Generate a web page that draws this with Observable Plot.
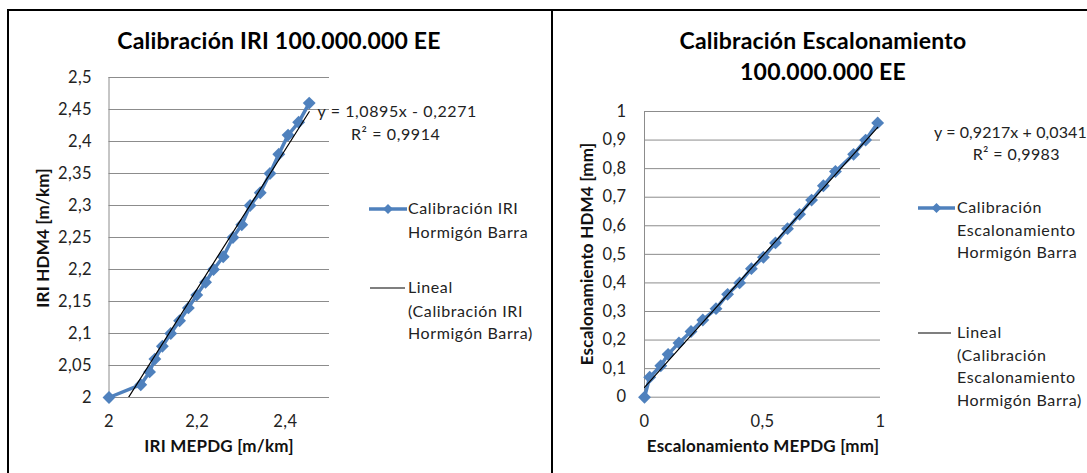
<!DOCTYPE html>
<html><head><meta charset="utf-8">
<script src="https://cdn.jsdelivr.net/npm/d3@7"></script>
<script src="https://cdn.jsdelivr.net/npm/@observablehq/plot@0.6"></script>
<style>
html,body{margin:0;padding:0;background:#fff;}
#root{position:relative;width:1087px;height:473px;overflow:hidden;font-family:Lato,"Open Sans",sans-serif;color:#222;}
.box{position:absolute;border:2px solid #000;box-sizing:border-box;}
.t{position:absolute;white-space:nowrap;line-height:1;}
svg.chart{position:absolute;top:0;}
</style></head><body><div id="root"></div>
<script>
// ---------- data ----------
const iriMepdg = [2.00, 2.072, 2.092, 2.104, 2.121, 2.140, 2.160, 2.180, 2.199, 2.219, 2.237, 2.259, 2.281, 2.301, 2.320, 2.343, 2.365, 2.385, 2.406, 2.430, 2.454];
const iriHdm4  = [2.00, 2.02, 2.04, 2.06, 2.08, 2.10, 2.12, 2.14, 2.16, 2.18, 2.20, 2.22, 2.25, 2.27, 2.30, 2.32, 2.35, 2.38, 2.41, 2.43, 2.46];
const iriTrendSlope = 1.0895, iriTrendIntercept = -0.2271;
const iriTrendX = [2.00, 2.454];
const iriXTicks = [2, 2.2, 2.4];
const iriYTicks = [2, 2.05, 2.1, 2.15, 2.2, 2.25, 2.3, 2.35, 2.4, 2.45, 2.5];

const escMepdg = [0, 0.022, 0.069, 0.10, 0.146, 0.197, 0.247, 0.303, 0.352, 0.403, 0.453, 0.504, 0.555, 0.606, 0.657, 0.708, 0.758, 0.809, 0.886, 0.937, 0.988];
const escHdm4  = [0, 0.07, 0.11, 0.15, 0.19, 0.23, 0.27, 0.31, 0.36, 0.40, 0.45, 0.49, 0.54, 0.59, 0.64, 0.69, 0.74, 0.79, 0.85, 0.90, 0.96];
const escTrendSlope = 0.9217, escTrendIntercept = 0.0341;
const escTrendX = [0, 0.988];
const escXTicks = [0, 0.5, 1];
const escYTicks = [0, 0.1, 0.2, 0.3, 0.4, 0.5, 0.6, 0.7, 0.8, 0.9, 1];

// ---------- helpers ----------
const root = document.getElementById("root");
const fmt = d => String(d).replace(".", ",");
const BLUE = "#4F81BD", GRID = "#8c8c8c";

function box(l, t, w, h){ const d=document.createElement("div"); d.className="box"; Object.assign(d.style,{left:l+"px",top:t+"px",width:w+"px",height:h+"px"}); root.appendChild(d); }
// text placed by baseline
function txt(s, x, base, o={}){
  const fs=o.fs||16, d=document.createElement("div"); d.className="t"; d.textContent=s;
  d.style.fontSize=fs+"px"; d.style.fontWeight=o.bold?"bold":"normal"; d.style.color=o.color||"#222";
  d.style.letterSpacing=(o.ls!=null?o.ls:0.6)+"px";
  d.style.top=(base-0.887*fs)+"px";
  if(o.center){ d.style.left=(x-300)+"px"; d.style.width="600px"; d.style.textAlign="center"; }
  else d.style.left=x+"px";
  root.appendChild(d);
}
function vtxt(s, cx, cy, o={}){
  const fs=o.fs||17, d=document.createElement("div"); d.className="t"; d.textContent=s;
  Object.assign(d.style,{fontSize:fs+"px",fontWeight:"bold",color:"#111",letterSpacing:"0.2px",left:cx+"px",top:cy+"px",transform:"translate(-50%,-50%) rotate(-90deg)"});
  root.appendChild(d);
}
function swatch(x1, x2, y, color, width, diamond){
  const ns="http://www.w3.org/2000/svg", s=document.createElementNS(ns,"svg");
  s.setAttribute("width",x2-x1+10); s.setAttribute("height",16);
  Object.assign(s.style,{position:"absolute",left:(x1-5)+"px",top:(y-8)+"px"});
  const l=document.createElementNS(ns,"line");
  l.setAttribute("x1",5); l.setAttribute("x2",x2-x1+5); l.setAttribute("y1",8); l.setAttribute("y2",8);
  l.setAttribute("stroke",color); l.setAttribute("stroke-width",width); s.appendChild(l);
  if(diamond){ const c=(x2-x1)/2+5, p=document.createElementNS(ns,"path");
    p.setAttribute("d",`M${c},${8-5}L${c+5},8L${c},${8+5}L${c-5},8Z`); p.setAttribute("fill",color); s.appendChild(p); }
  root.appendChild(s);
}

function makeChart(o){
  const pts = o.xs.map((x,i)=>({x, y:o.ys[i]}));
  const trend = o.tx.map(x=>({x, y:o.slope*x+o.intercept}));
  const svg = Plot.plot({
    width:o.w, height:473,
    marginLeft:o.ml, marginRight:o.mr, marginTop:o.mt, marginBottom:o.mb,
    style:{fontFamily:"Lato, sans-serif", fontSize:"16.5px", letterSpacing:"0.4px", color:"#222", background:"transparent", overflow:"visible"},
    x:{domain:o.xd, label:null},
    y:{domain:o.yd, label:null},
    marks:[
      Plot.gridY(o.yt, {stroke:GRID, strokeOpacity:1, strokeWidth:1}),
      Plot.ruleX([o.xd[0]], {stroke:GRID, strokeWidth:1}),
      Plot.axisY(o.yt, {tickSize:0, tickPadding:o.yp, tickFormat:fmt, label:null}),
      Plot.axisX(o.xt, {tickSize:0, tickPadding:18, tickFormat:fmt, label:null}),
      Plot.line(pts, {x:"x", y:"y", stroke:BLUE, strokeWidth:3.5}),
      Plot.dot(pts, {x:"x", y:"y", symbol:"diamond2", r:5.8, fill:BLUE, stroke:"none"}),
      Plot.line(trend, {x:"x", y:"y", stroke:"#000", strokeWidth:1.2, clip:true})
    ]
  });
  svg.classList.add("chart");
  svg.style.left=o.left+"px";
  root.appendChild(svg);
}

// ---------- frames ----------
box(7, 9, 546, 520);
box(551, 9, 600, 520);

// ---------- left chart ----------
makeChart({left:0, w:550, ml:108.5, mr:221, mt:77, mb:76, xd:[2,2.5], yd:[2,2.5],
  xs:iriMepdg, ys:iriHdm4, tx:iriTrendX, slope:iriTrendSlope, intercept:iriTrendIntercept,
  xt:iriXTicks, yt:iriYTicks, yp:17});
txt("Calibración IRI 100.000.000 EE", 279, 49, {fs:23, bold:true, center:true, color:"#000", ls:0.2});
vtxt("IRI HDM4 [m/km]", 42, 238);
txt("IRI MEPDG [m/km]", 219, 452, {fs:17, bold:true, center:true, color:"#111", ls:0.2});
txt("y = 1,0895x - 0,2271", 317.5, 117);
txt("R² = 0,9914", 351, 140);
swatch(369, 407, 209, BLUE, 3.5, true);
txt("Calibración IRI", 408, 214.3);
txt("Hormigón Barra", 408, 237.7);
swatch(370, 405, 287.7, "#000", 1.2, false);
txt("Lineal", 408, 293.3);
txt("(Calibración IRI", 408, 316.7);
txt("Hormigón Barra)", 408, 339.5);

// ---------- right chart ----------
makeChart({left:550, w:537, ml:94, mr:207, mt:111, mb:76.3, xd:[0,1], yd:[0,1],
  xs:escMepdg, ys:escHdm4, tx:escTrendX, slope:escTrendSlope, intercept:escTrendIntercept,
  xt:escXTicks, yt:escYTicks, yp:18});
txt("Calibración Escalonamiento", 823, 49, {fs:23, bold:true, center:true, color:"#000", ls:0.2});
txt("100.000.000 EE", 823, 80, {fs:23, bold:true, center:true, color:"#000", ls:0.2});
vtxt("Escalonamiento HDM4 [mm]", 586, 254);
txt("Escalonamiento MEPDG [mm]", 763, 452, {fs:17, bold:true, center:true, color:"#111", ls:0.2});
txt("y = 0,9217x + 0,0341", 934, 138.5, {ls:0.1});
txt("R² = 0,9983", 972.7, 160.5, {ls:0.4});
swatch(918, 955, 208.3, BLUE, 3.5, true);
txt("Calibración", 957, 213.5);
txt("Escalonamiento", 957, 236);
txt("Hormigón Barra", 957, 258.5);
swatch(918, 951, 333.3, "#000", 1.2, false);
txt("Lineal", 957, 338.5);
txt("(Calibración", 957, 361);
txt("Escalonamiento", 957, 383.5);
txt("Hormigón Barra)", 957, 406);
</script></body></html>
